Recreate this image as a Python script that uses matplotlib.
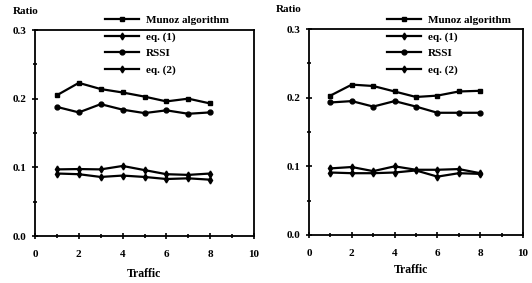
import matplotlib.pyplot as plt

# Data
traffic = [1, 2, 3, 4, 5, 6, 7, 8]
labels = ["Munoz algorithm", "eq. (1)", "RSSI", "eq. (2)"]
xticks = [0, 2, 4, 6, 8, 10]
yticks = [0.0, 0.1, 0.2, 0.3]

left_munoz = [0.205, 0.223, 0.214, 0.209, 0.203, 0.196, 0.200, 0.193]
left_eq1 = [0.097, 0.0975, 0.097, 0.102, 0.096, 0.090, 0.089, 0.091]
left_rssi = [0.188, 0.180, 0.192, 0.184, 0.179, 0.183, 0.178, 0.180]
left_eq2 = [0.091, 0.090, 0.086, 0.088, 0.086, 0.083, 0.084, 0.082]

right_munoz = [0.203, 0.219, 0.217, 0.209, 0.201, 0.203, 0.209, 0.210]
right_eq1 = [0.097, 0.099, 0.093, 0.100, 0.095, 0.095, 0.096, 0.090]
right_rssi = [0.193, 0.195, 0.187, 0.195, 0.187, 0.178, 0.178, 0.178]
right_eq2 = [0.091, 0.090, 0.090, 0.091, 0.094, 0.085, 0.090, 0.089]

markers = ["s", "d", "o", "d"]
font = {"family": "Liberation Serif", "weight": "bold"}
W, H = 532, 283

fig = plt.figure(figsize=(W / 100, H / 100), dpi=100)


def px(x0, y0, x1, y1):
    # pixel box (top-left origin) -> figure fraction rect
    return [x0 / W, 1 - y1 / H, (x1 - x0) / W, (y1 - y0) / H]


ax1 = fig.add_axes(px(35, 30, 254, 236))
ax2 = fig.add_axes(px(309, 29, 523, 235))

panels = [
    (ax1, [left_munoz, left_eq1, left_rssi, left_eq2], 105, 15, (13, 12), (144, 274)),
    (ax2, [right_munoz, right_eq1, right_rssi, right_eq2], 387, 15, (276, 9), (411, 270)),
]

for ax, series, lx, ly, rpos, tpos in panels:
    handles = []
    for ys, m, lab in zip(series, markers, labels):
        h, = ax.plot(traffic, ys, color="black", lw=1.6, marker=m, ms=3.5,
                     label=lab)
        handles.append(h)
    ax.set_xlim(0, 10)
    ax.set_ylim(0, 0.3)
    ax.set_xticks(xticks)
    ax.set_xticks([1, 3, 5, 7, 9], minor=True)
    ax.set_yticks(yticks)
    ax.set_yticks([0.05, 0.15, 0.25], minor=True)
    ax.set_xticklabels([str(v) for v in xticks], fontdict=font)
    ax.set_yticklabels([f"{v:.1f}" for v in yticks], fontdict=font)
    ax.tick_params(which="both", direction="inout", length=4, width=1.2,
                   labelsize=8, pad=4)
    ax.tick_params(axis="x", which="major", pad=8)
    ax.tick_params(which="minor", length=3)
    for s in ax.spines.values():
        s.set_linewidth(1.3)
    fig.text(rpos[0] / W, 1 - rpos[1] / H, "Ratio", fontdict=font,
             fontsize=8, ha="left", va="center")
    fig.text(tpos[0] / W, 1 - tpos[1] / H, "Traffic", fontdict=font,
             fontsize=8.5, ha="center", va="center")
    leg = fig.legend(handles=handles, loc="upper left",
                     bbox_to_anchor=(lx / W, 1 - ly / H), frameon=False,
                     prop={"family": "Liberation Serif", "weight": "bold",
                           "size": 8},
                     handlelength=3.1, labelspacing=0.62, handletextpad=0.6,
                     borderpad=0, borderaxespad=0)
    leg.set_zorder(5)

fig.savefig("out.png", dpi=100)
